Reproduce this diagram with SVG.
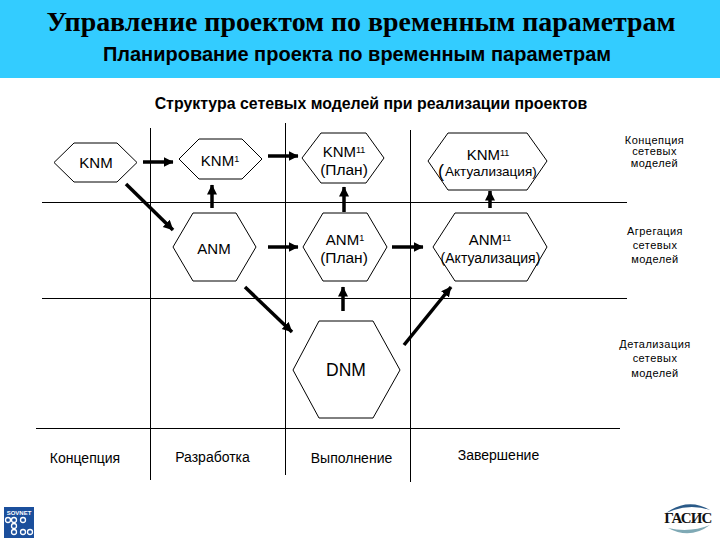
<svg xmlns="http://www.w3.org/2000/svg" width="720" height="540" viewBox="0 0 720 540">
<defs>
<marker id="ah" markerUnits="userSpaceOnUse" markerWidth="11" markerHeight="11" refX="9.500" refY="5" orient="auto"><path d="M0 0L10 5L0 10Z" fill="#000"/></marker>
</defs>
<style>
.t{font-family:"Liberation Sans",Arial,sans-serif;fill:#000}
.hex{fill:#fff;stroke:#000;stroke-width:1}
.ln{stroke:#000;stroke-width:1;fill:none}
.ar{stroke:#000;stroke-width:3.500;fill:none;marker-end:url(#ah)}
.n{font-size:15px;text-anchor:middle}
.p{font-size:15.500px;text-anchor:middle}
.s{font-size:11px;letter-spacing:.45px;text-anchor:middle}
.a{font-size:14px;text-anchor:middle}
.b{font-size:14px;text-anchor:middle}
</style>
<rect width="720" height="540" fill="#fff"/>
<rect width="720" height="78" fill="#33CCFF"/>
<text x="361" y="31" text-anchor="middle" style="font-family:'Liberation Serif',serif;font-size:27.900px;font-weight:bold">Управление проектом по временным параметрам</text>
<text x="357" y="61" text-anchor="middle" class="t" style="font-size:20px;font-weight:bold">Планирование проекта по временным параметрам</text>
<text x="371" y="109" text-anchor="middle" class="t" style="font-size:15.900px;font-weight:bold">Структура сетевых моделей при реализации проектов</text>
<g id="grid">
<path class="ln" d="M150.500 128V480M285.500 123V475M410.500 130V482M42 202.500H627M42 298.500H627M36 428.500H620"/>
</g>
<g id="knm"><polygon class="hex" points="54,162.500 74,143 117,143 137,162.500 117,182 74,182"/><text class="t n" x="96" y="168">KNM</text></g>
<g id="knm1"><polygon class="hex" points="179,159 199,139 242,139 262,159 242,179 199,179"/><text class="t n" x="220" y="166">KNM<tspan font-size="9" dy="-4">1</tspan></text></g>
<g id="knm11-plan"><polygon class="hex" points="302,158 321,133 366,133 384,158 366,183 321,183"/><text class="t n" x="344" y="157">KNM<tspan font-size="9" dy="-4">11</tspan></text><text class="t p" x="344" y="175">(План)</text></g>
<g id="knm11-act"><polygon class="hex" points="428,161 448,133 527,133 547,161 527,190 448,190"/><text class="t n" x="488" y="160">KNM<tspan font-size="9" dy="-4">11</tspan></text><text class="t" x="438" y="177" font-size="18">(</text><text class="t" x="445" y="176" font-size="13.500">Актуализация)</text></g>
<g id="anm"><polygon class="hex" points="173,247 193,213 236,213 256,247 236,281 193,281"/><text class="t n" x="214" y="254">ANM</text></g>
<g id="anm1"><polygon class="hex" points="303,247 323,213 367,213 387,247 367,281 323,281"/><text class="t n" x="345" y="245">ANM<tspan font-size="9" dy="-4">1</tspan></text><text class="t p" x="344" y="263">(План)</text></g>
<g id="anm11"><polygon class="hex" points="433,247 455,213 527,213 547,247 527,281 455,281"/><text class="t n" x="490" y="245">ANM<tspan font-size="9" dy="-4">11</tspan></text><text class="t a" x="490.500" y="263">(Актуализация)</text></g>
<g id="dnm"><polygon class="hex" points="293,370 319,321 373,321 400,370 373,418 319,418"/><text class="t" x="346" y="376" text-anchor="middle" font-size="17.500">DNM</text></g>
<g id="connectors">
<path class="ar" d="M143 162H173"/>
<path class="ar" d="M268 156H298"/>
<path class="ar" d="M268 247H298"/>
<path class="ar" d="M392 247H423"/>
<path class="ar" d="M212 208V185"/>
<path class="ar" d="M344 212V187"/>
<path class="ar" d="M490 208V191"/>
<path class="ar" d="M343 311V287"/>
<path class="ar" d="M126 184L173 230"/>
<path class="ar" d="M245 287L292 332"/>
<path class="ar" d="M404 345L451 287"/>
</g>
<g id="labels">
<text class="t s" x="654.500" y="144">Концепция</text><text class="t s" x="654.500" y="155">сетевых</text><text class="t s" x="654.500" y="167">моделей</text>
<text class="t s" x="655" y="235">Агрегация</text><text class="t s" x="655" y="249">сетевых</text><text class="t s" x="655" y="263">моделей</text>
<text class="t s" x="655" y="348">Детализация</text><text class="t s" x="655" y="362">сетевых</text><text class="t s" x="655" y="377">моделей</text>
<text class="t b" x="85" y="463">Концепция</text>
<text class="t b" x="212.500" y="462">Разработка</text>
<text class="t b" x="351.500" y="463">Выполнение</text>
<text class="t b" x="498.500" y="460">Завершение</text>
</g>
<g id="logos">
<rect x="4" y="507" width="30" height="31" fill="#1b4f9c"/>
<text x="19" y="515" text-anchor="middle" font-size="6" font-weight="bold" fill="#fff" style="font-family:'Liberation Sans',sans-serif">SOVNET</text>
<g fill="none" stroke="#fff" stroke-width="1.300"><circle cx="8" cy="520" r="2.500"/><circle cx="14" cy="520" r="2.500"/><circle cx="23" cy="520" r="2.500"/><circle cx="14" cy="526" r="2.500"/><circle cx="14" cy="532" r="2.500"/><circle cx="23" cy="532" r="2.500"/><circle cx="30" cy="532" r="2.500"/></g>
<path d="M666 513Q688 497 710 510Q688 503 666 513Z" fill="#2a5a88"/>
<path d="M668 528Q690 540 710 525Q690 533 668 528Z" fill="#7fa9b5"/>
<text x="688" y="523" text-anchor="middle" font-size="15" font-weight="bold" letter-spacing="-.8" style="font-family:'Liberation Serif',serif" fill="#111">ГАСИС</text>
</g>
</svg>
